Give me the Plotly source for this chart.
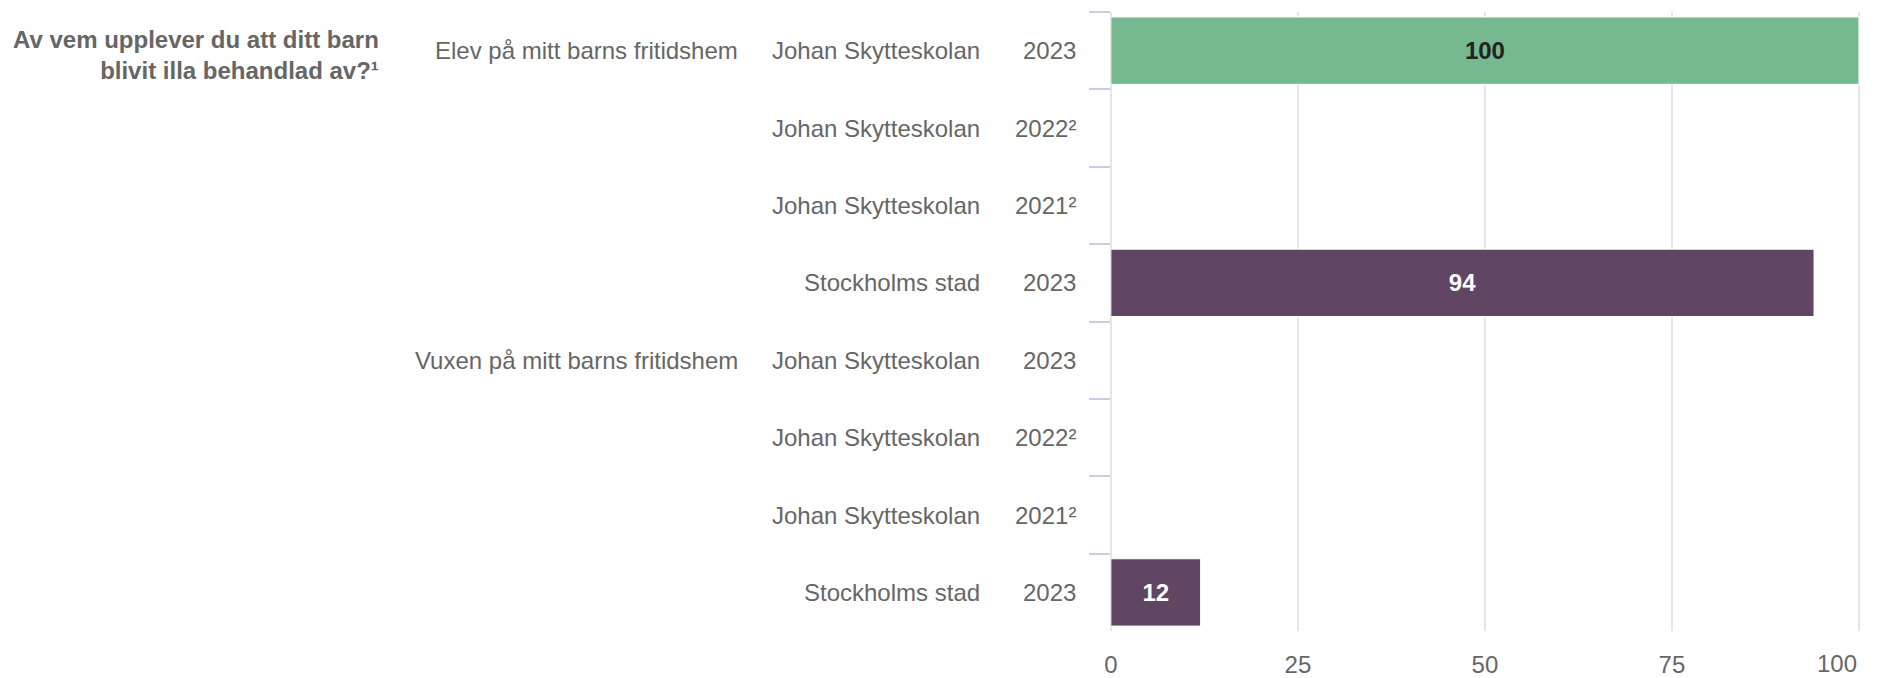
import plotly.graph_objects as go

# ---- data ----
question = "Av vem upplever du att ditt barn<br>blivit illa behandlad av?¹"
groups = ["Elev på mitt barns fritidshem", "Vuxen på mitt barns fritidshem"]
units = ["Johan Skytteskolan", "Johan Skytteskolan", "Johan Skytteskolan", "Stockholms stad"]
years = ["2023", "2022²", "2021²", "2023"]
values_elev = [100, None, None, 94]
values_vuxen = [None, None, None, 12]
x_ticks = [0, 25, 50, 75, 100]

# ---- styling ----
W, H = 1877, 678
FONT = "Arial, 'Liberation Sans', Helvetica, sans-serif"
GREEN = "#76b88f"
PURPLE = "#614663"
unit_color = {"Johan Skytteskolan": GREEN, "Stockholms stad": PURPLE}
label_color = {"Johan Skytteskolan": "#222222", "Stockholms stad": "#ffffff"}

rows, vals, cols, tcols, row_units, row_years, row_group = [], [], [], [], [], [], []
for gi, (g, gv) in enumerate(zip(groups, [values_elev, values_vuxen])):
    for i, (u, yv, v) in enumerate(zip(units, years, gv)):
        rid = f"r{gi}_{i}"
        rows.append(rid)
        vals.append(v)
        cols.append(unit_color[u])
        tcols.append(label_color[u])
        row_units.append(u)
        row_years.append(yv)
        row_group.append(g if i == 0 else "")

texts = ["" if v is None else str(v) for v in vals]

fig = go.Figure(go.Bar(
    x=vals, y=rows, orientation="h",
    marker=dict(color=cols, line=dict(color="#ffffff", width=1)),
    text=texts, textposition="inside", insidetextanchor="middle",
    textfont=dict(family=FONT, size=24, color=tcols, weight="bold"),
    textangle=0, cliponaxis=False,
    hoverinfo="skip",
))

x0, x1 = 1108, 1860
y_top, y_bot = 12, 633

# last tick label is drawn right-aligned at its tick (as in the original chart)
tick_text = [str(t) for t in x_ticks[:-1]] + [""]

fig.update_layout(
    width=W, height=H,
    margin=dict(l=0, r=0, t=0, b=0),
    paper_bgcolor="white", plot_bgcolor="white",
    showlegend=False, bargap=0.13,
    font=dict(family=FONT, color="#666666", size=24),
    xaxis=dict(
        domain=[x0 / W, x1 / W], range=[0, 100.15],
        tickvals=x_ticks, ticktext=tick_text,
        showgrid=True, gridcolor="#e6e6e6", gridwidth=1.5,
        zeroline=True, zerolinecolor="#e6e6e6", zerolinewidth=1.5,
        showline=False,
        ticks="outside", ticklen=0, ticklabelstandoff=12,
        tickfont=dict(size=24, color="#666666", family=FONT),
    ),
    yaxis=dict(
        domain=[1 - y_bot / H, 1 - y_top / H],
        categoryorder="array", categoryarray=rows, autorange="reversed",
        showticklabels=False, showgrid=False, zeroline=False,
        showline=False,
        ticks="outside", tickson="boundaries", ticklen=21,
        tickcolor="#c5d0e6", tickwidth=2,
    ),
)

ann = []
for rid, u, yv, g in zip(rows, row_units, row_years, row_group):
    ann.append(dict(x=1075 / W, xref="paper", y=rid, yref="y", text=yv,
                    showarrow=False, xanchor="right", yanchor="middle",
                    font=dict(size=24, color="#666666", family=FONT)))
    ann.append(dict(x=979 / W, xref="paper", y=rid, yref="y", text=u,
                    showarrow=False, xanchor="right", yanchor="middle",
                    font=dict(size=24, color="#666666", family=FONT)))
    if g:
        ann.append(dict(x=736 / W, xref="paper", y=rid, yref="y", text=g,
                        showarrow=False, xanchor="right", yanchor="middle",
                        font=dict(size=24, color="#666666", family=FONT)))
ann.append(dict(x=375 / W, xref="paper", y=1 - 55 / H, yref="paper", text="<b>" + question + "</b>",
                showarrow=False, xanchor="right", yanchor="middle", align="right",
                font=dict(size=24, color="#666666", family=FONT)))
ann.append(dict(x=x_ticks[-1], xref="x", y=1 - 665 / H, yref="paper", text=str(x_ticks[-1]),
                showarrow=False, xanchor="right", yanchor="middle",
                font=dict(size=24, color="#666666", family=FONT)))
fig.update_layout(annotations=ann)

fig.write_html("out.html")
